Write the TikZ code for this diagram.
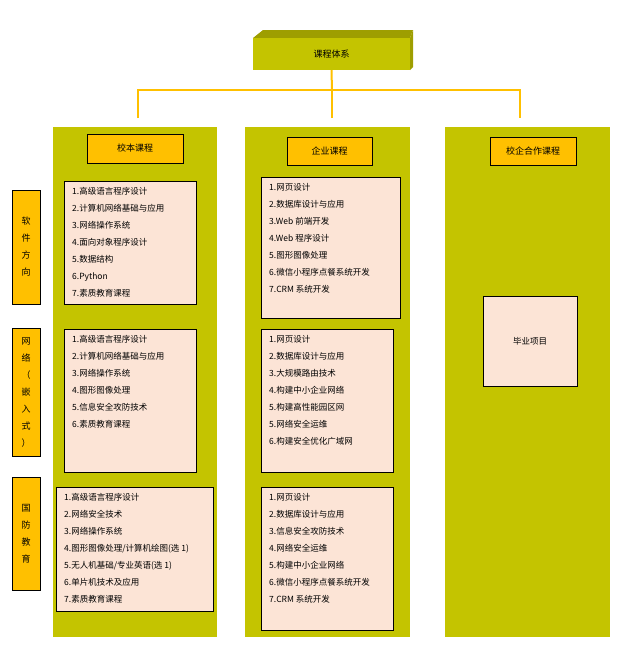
\documentclass[tikz,border=0pt]{standalone}
\usepackage{fontspec}
\setmainfont{Liberation Serif}
\newfontfamily\cjk{Noto Sans CJK SC}
\definecolor{olive}{HTML}{C4C400}
\definecolor{darkolive}{HTML}{9E9E00}
\definecolor{gold}{HTML}{FFC000}
\definecolor{peach}{HTML}{FCE4D6}
\begin{document}
\begin{tikzpicture}[x=1pt, y=-1pt,
  colStyle/.style={fill=olive, draw=none},
  headStyle/.style={fill=gold, draw=black, line width=0.6pt, font=\cjk\fontsize{9}{11}\selectfont},
  sideStyle/.style={fill=gold, draw=black, line width=0.6pt, font=\cjk\fontsize{9}{11}\selectfont},
  listStyle/.style={fill=peach, draw=black, line width=0.6pt},
  itemStyle/.style={anchor=north west, align=left, inner sep=0pt, font=\cjk\fontsize{8.5}{17}\selectfont},
  lineStyle/.style={draw=gold, line width=2pt}]
\useasboundingbox (0,0) rectangle (626,657);
% top box
\fill[darkolive] (253,38) -- (263,30) -- (413,30) -- (410,38) -- cycle;
\fill[darkolive] (410,38) -- (413,30) -- (413,67) -- (410,70) -- cycle;
\node[fill=olive, minimum width=157pt, minimum height=32pt, inner sep=0pt,
  font=\cjk\fontsize{9}{11}\selectfont] (root) at (331.5,54) {课程体系};
% columns
\node[colStyle, minimum width=164pt, minimum height=510pt] (c1) at (135,382) {};
\node[colStyle, minimum width=165pt, minimum height=510pt] (c2) at (327.5,382) {};
\node[colStyle, minimum width=165pt, minimum height=510pt] (c3) at (527.5,382) {};
% connectors
\coordinate (hub) at (332,90);
\draw[lineStyle] (root.south) -- (hub);
\draw[lineStyle] (138,118) |- (hub) -| (520,118);
\draw[lineStyle] (hub) -- (332,118);
% headers
\node[headStyle, minimum width=96pt, minimum height=29pt] (h1) at (135,148.5) {校本课程};
\node[headStyle, minimum width=85pt, minimum height=28pt] (h2) at (329.5,151) {企业课程};
\node[headStyle, minimum width=86pt, minimum height=28pt] (h3) at (533,151) {校企合作课程};
% side labels
\node[sideStyle, minimum width=28pt, minimum height=114pt, align=center,
  font=\cjk\fontsize{9}{17}\selectfont] (s1) at (26,247) {软\\件\\方\\向};
\node[sideStyle, minimum width=28pt, minimum height=128pt, align=center,
  font=\cjk\fontsize{9}{17}\selectfont] (s2) at (26,392) {网\\络\\（\\嵌\\入\\式\\）};
\node[sideStyle, minimum width=28pt, minimum height=113pt, align=center,
  font=\cjk\fontsize{9}{17}\selectfont] (s3) at (26,533.5) {国\\防\\教\\育};
% list boxes
\draw[listStyle] (64,181) rectangle (196,304);
\node[itemStyle] (l1) at (72,187) {1.高级语言程序设计\\2.计算机网络基础与应用\\3.网络操作系统\\4.面向对象程序设计\\5.数据结构\\6.Python\\7.素质教育课程};
\draw[listStyle] (64,329) rectangle (196,472);
\node[itemStyle] (l2) at (72,335) {1.高级语言程序设计\\2.计算机网络基础与应用\\3.网络操作系统\\4.图形图像处理\\5.信息安全攻防技术\\6.素质教育课程};
\draw[listStyle] (56,487) rectangle (213,611);
\node[itemStyle] (l3) at (64,493) {1.高级语言程序设计\\2.网络安全技术\\3.网络操作系统\\4.图形图像处理/计算机绘图(选 1)\\5.无人机基础/专业英语(选 1)\\6.单片机技术及应用\\7.素质教育课程};
\draw[listStyle] (261,177) rectangle (400,318);
\node[itemStyle] (m1) at (269,183) {1.网页设计\\2.数据库设计与应用\\3.Web 前端开发\\4.Web 程序设计\\5.图形图像处理\\6.微信小程序点餐系统开发\\7.CRM 系统开发};
\draw[listStyle] (261,329) rectangle (393,472);
\node[itemStyle] (m2) at (269,335) {1.网页设计\\2.数据库设计与应用\\3.大规模路由技术\\4.构建中小企业网络\\5.构建高性能园区网\\5.网络安全运维\\6.构建安全优化广域网};
\draw[listStyle] (261,487) rectangle (393,630);
\node[itemStyle] (m3) at (269,493) {1.网页设计\\2.数据库设计与应用\\3.信息安全攻防技术\\4.网络安全运维\\5.构建中小企业网络\\6.微信小程序点餐系统开发\\7.CRM 系统开发};
\node[listStyle, minimum width=94pt, minimum height=90pt,
  font=\cjk\fontsize{8.5}{11}\selectfont] (p1) at (530,341) {毕业项目};
\end{tikzpicture}
\end{document}
